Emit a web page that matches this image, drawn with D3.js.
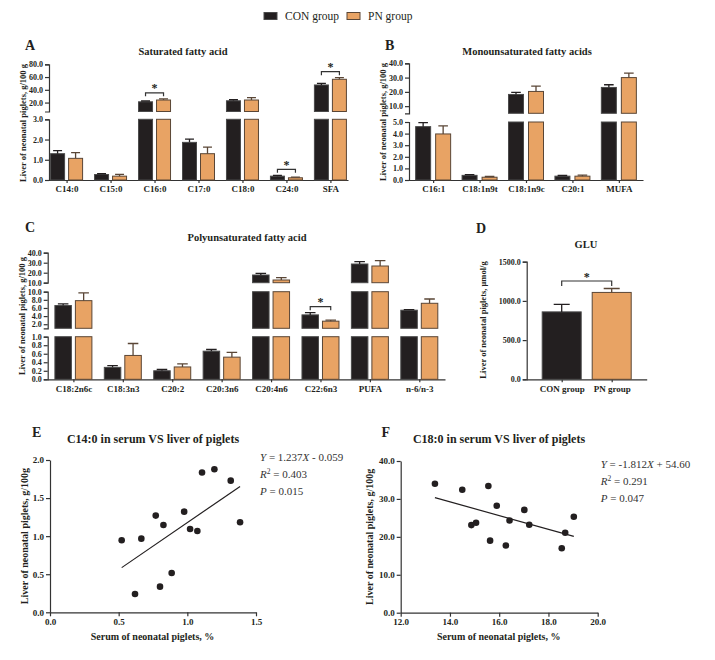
<!DOCTYPE html>
<html>
<head>
<meta charset="utf-8">
<script src="https://cdnjs.cloudflare.com/ajax/libs/d3/7.8.5/d3.min.js"></script>
<style>
  body { margin: 0; background: #fff; }
  svg { font-family: "Liberation Serif", "Times New Roman", serif; }
</style>
</head>
<body>
<div class="chart"></div>
<script>
// groups
var groups = ["CON group", "PN group"];
var groupFill = ["#231f20", "#e8a364"];
var groupStroke = ["#4a4a4a", "#5a4636"];
var errColor = ["#231f20", "#5a4636"];

// A - saturated fatty acid (g/100 g)
var sfaCats = ["C14:0", "C15:0", "C16:0", "C17:0", "C18:0", "C24:0", "SFA"];
var sfaCon = [1.30, 0.27, 21.2, 1.86, 22.8, 0.19, 47.6];
var sfaConSd = [0.15, 0.04, 1.3, 0.16, 1.6, 0.04, 2.6];
var sfaPn = [1.07, 0.19, 24.0, 1.30, 24.0, 0.11, 56.5];
var sfaPnSd = [0.28, 0.09, 1.8, 0.32, 3.8, 0.03, 2.6];
var sfaSig = ["C16:0", "C24:0", "SFA"];

// B - monounsaturated
var mufaCats = ["C16:1", "C18:1n9t", "C18:1n9c", "C20:1", "MUFA"];
var mufaCon = [4.60, 0.40, 18.2, 0.33, 23.1];
var mufaConSd = [0.35, 0.06, 1.5, 0.06, 1.9];
var mufaPn = [3.97, 0.24, 20.3, 0.33, 30.0];
var mufaPnSd = [0.70, 0.06, 3.7, 0.09, 3.1];
var mufaSig = [];

// C - polyunsaturated
var pufaCats = ["C18:2n6c", "C18:3n3", "C20:2", "C20:3n6", "C20:4n6", "C22:6n3", "PUFA", "n-6/n-3"];
var pufaCon = [6.6, 0.28, 0.20, 0.66, 17.7, 4.3, 28.7, 5.45];
var pufaConSd = [0.4, 0.04, 0.03, 0.04, 1.7, 0.55, 2.3, 0.15];
var pufaPn = [7.8, 0.56, 0.29, 0.52, 12.7, 2.75, 26.7, 7.15];
var pufaPnSd = [1.9, 0.28, 0.07, 0.11, 2.3, 0.25, 5.3, 1.05];
var pufaSig = ["C22:6n3"];

// D - GLU (umol/g), one bar per group
var gluCats = ["CON group", "PN group"];
var gluMean = [860, 1108];
var gluSd = [95, 50];
var gluSig = true;

// E - C14:0 serum vs liver
var eSerum = [0.522, 0.665, 0.770, 0.826, 0.619, 0.801, 0.886, 0.977, 1.020, 1.073, 1.107, 1.197, 1.316, 1.384];
var eLiver = [0.946, 0.967, 1.27, 1.147, 0.24, 0.337, 0.516, 1.322, 1.094, 1.068, 1.835, 1.879, 1.729, 1.183];
var eFit = [1.237, -0.059, 0.403, 0.015]; // slope, intercept, R2, P

// F - C18:0 serum vs liver
var fSerum = [13.39, 14.50, 14.87, 15.06, 15.56, 15.63, 15.90, 16.27, 16.42, 17.02, 17.22, 18.54, 18.68, 19.03];
var fLiver = [34.0, 32.4, 23.1, 23.7, 33.4, 19.0, 28.2, 17.7, 24.3, 27.1, 23.2, 17.0, 21.1, 25.3];
var fFit = [-1.812, 54.60, 0.291, 0.047];

var width = 715, height = 660;
var ink = "#231f20";

var svg = d3.select(".chart").append("svg")
  .attr("width", width)
  .attr("height", height);

svg.append("rect").attr("width", width).attr("height", height).attr("fill", "#fff");

// legend
var leg = svg.append("g");
[264, 347].forEach(function(lx, i) {
  leg.append("rect")
    .attr("x", lx).attr("y", 12.5)
    .attr("width", 13).attr("height", 7)
    .attr("fill", groupFill[i])
    .attr("stroke", groupStroke[i]);
  leg.append("text")
    .attr("x", lx + 21).attr("y", 20)
    .style("font-size", "11.5px")
    .attr("fill", ink)
    .text(groups[i]);
});

function styleAxis(a, fs) {
  a.attr("font-family", null).attr("font-size", null);
  a.select(".domain").attr("stroke", "#333").attr("stroke-width", 1.2);
  a.selectAll(".tick line").attr("stroke", "#333").attr("stroke-width", 1.2);
  a.selectAll(".tick text")
    .attr("fill", ink)
    .style("font-weight", "bold")
    .style("font-size", fs + "px");
}

function label(x, y, txt, size, bold, anchor) {
  return svg.append("text")
    .attr("x", x).attr("y", y)
    .attr("fill", ink)
    .style("font-size", size + "px")
    .style("font-weight", bold ? "bold" : "normal")
    .attr("text-anchor", anchor || "start")
    .text(txt);
}

function yTitle(x, y, txt, size) {
  svg.append("text")
    .attr("transform", "translate(" + x + "," + y + ") rotate(-90)")
    .attr("text-anchor", "middle")
    .attr("fill", ink)
    .style("font-size", size + "px")
    .style("font-weight", "bold")
    .text(txt);
}

// bar chart with a broken y axis
function barPanel(p) {
  var g = svg.append("g");
  var x = d3.scalePoint().domain(p.cats).range(p.xr).padding(p.pad);
  var segs = p.segs.map(function(s) {
    return { d: s.d, sc: d3.scaleLinear().domain(s.d).range(s.r), ticks: s.ticks };
  });
  var base = p.segs[0].r[0];

  // y axis pieces
  segs.forEach(function(s) {
    var a = g.append("g")
      .attr("transform", "translate(" + p.xr[0] + ",0)")
      .call(d3.axisLeft(s.sc).tickValues(s.ticks).tickFormat(d3.format(".1f"))
        .tickSize(4).tickSizeOuter(4).tickPadding(2));
    styleAxis(a, 8);
  });

  var ax = g.append("g")
    .attr("transform", "translate(0," + base + ")")
    .call(d3.axisBottom(x).tickSize(3).tickSizeOuter(0).tickPadding(3));
  styleAxis(ax, 9);

  // list of bars: grouped (two per category) or one per category
  var bars = [];
  if (p.single) {
    p.cats.forEach(function(c, j) {
      bars.push({ cat: c, k: j, v: p.vals[j], sd: p.sds[j], cx: x(c) });
    });
  } else {
    p.cats.forEach(function(c, j) {
      bars.push({ cat: c, k: 0, v: p.con[j], sd: p.conSd[j], cx: x(c) - p.gap / 2 - p.bw / 2 });
      bars.push({ cat: c, k: 1, v: p.pn[j], sd: p.pnSd[j], cx: x(c) + p.gap / 2 + p.bw / 2 });
    });
  }

  bars.forEach(function(b) {
    var own = segs[0];
    segs.forEach(function(s) {
      if (b.v > s.d[0]) {
        var t = Math.min(b.v, s.d[1]);
        g.append("rect")
          .attr("x", b.cx - p.bw / 2).attr("y", s.sc(t))
          .attr("width", p.bw).attr("height", s.sc(s.d[0]) - s.sc(t))
          .attr("fill", groupFill[b.k])
          .attr("stroke", groupStroke[b.k])
          .attr("stroke-width", 1);
        own = s;
      }
    });
    var cw = Math.min(p.bw * 0.32, 8);
    b.y1 = own.sc(b.v);
    b.y2 = own.sc(b.v + b.sd);
    g.append("path")
      .attr("d", "M" + b.cx + "," + b.y1 + "V" + b.y2 + "M" + (b.cx - cw) + "," + b.y2 + "H" + (b.cx + cw))
      .attr("fill", "none")
      .attr("stroke", errColor[b.k])
      .attr("stroke-width", 1.3);
  });

  // significance brackets
  var pairs = [];
  if (p.single) {
    if (p.sig) pairs.push([bars[0], bars[1]]);
  } else {
    p.sig.forEach(function(c) {
      var j = p.cats.indexOf(c);
      pairs.push([bars[2 * j], bars[2 * j + 1]]);
    });
  }
  pairs.forEach(function(pr) {
    var yb = Math.min(pr[0].y2, pr[1].y2) - p.bgap, xa = pr[0].cx, xb = pr[1].cx;
    g.append("path")
      .attr("d", "M" + xa + "," + (yb + p.btick) + "V" + yb + "H" + xb + "V" + (yb + p.btick))
      .attr("fill", "none").attr("stroke", "#333").attr("stroke-width", 1.2);
    g.append("text")
      .attr("x", (xa + xb) / 2).attr("y", yb - 0.5)
      .attr("text-anchor", "middle")
      .attr("fill", ink)
      .style("font-size", "12px").style("font-weight", "bold")
      .text("*");
  });

  yTitle(p.titleX, p.titleY, p.yLabel, 8.5);
  label(p.letter[1], p.letter[2], p.letter[0], 14, true);
  label(p.title[1], p.title[2], p.title[0], 10.5, true, "middle");
}

barPanel({
  cats: sfaCats, con: sfaCon, conSd: sfaConSd, pn: sfaPn, pnSd: sfaPnSd, sig: sfaSig,
  xr: [49, 348], pad: 0.4, bw: 14, gap: 4, bgap: 6, btick: 3.5,
  segs: [
    { d: [0, 3], r: [180, 119.3], ticks: [0, 1, 2, 3] },
    { d: [6, 80], r: [111.5, 64.3], ticks: [20, 40, 60, 80] }
  ],
  yLabel: "Liver of neonatal piglets, g/100 g", titleX: 26, titleY: 123,
  letter: ["A", 25, 50], title: ["Saturated fatty acid", 183, 55]
});

barPanel({
  cats: mufaCats, con: mufaCon, conSd: mufaConSd, pn: mufaPn, pnSd: mufaPnSd, sig: mufaSig,
  xr: [409, 643], pad: 0.52, bw: 15, gap: 5, bgap: 6, btick: 3.5,
  segs: [
    { d: [0, 5], r: [180, 122], ticks: [0, 1, 2, 3, 4, 5] },
    { d: [5, 40], r: [113.3, 63.3], ticks: [10, 20, 30, 40] }
  ],
  yLabel: "Liver of neonatal piglets, g/100 g", titleX: 386, titleY: 122,
  letter: ["B", 385, 50], title: ["Monounsaturated fatty acids", 527, 55]
});

barPanel({
  cats: pufaCats, con: pufaCon, conSd: pufaConSd, pn: pufaPn, pnSd: pufaPnSd, sig: pufaSig,
  xr: [47.7, 445], pad: 0.52, bw: 16.5, gap: 4, bgap: 6, btick: 3.5,
  segs: [
    { d: [0, 1], r: [379.3, 336.7], ticks: [0, 0.2, 0.4, 0.6, 0.8, 1.0] },
    { d: [1, 10], r: [328.3, 291.7], ticks: [2, 4, 6, 8, 10] },
    { d: [10, 40], r: [282.7, 252.7], ticks: [10, 20, 30, 40] }
  ],
  yLabel: "Liver of neonatal piglets, g/100 g", titleX: 24.5, titleY: 316,
  letter: ["C", 25, 231.5], title: ["Polyunsaturated fatty acid", 247, 240.5]
});

barPanel({
  single: true, cats: gluCats, vals: gluMean, sds: gluSd, sig: gluSig,
  xr: [526.7, 646.7], pad: 0.7, bw: 39, gap: 11, bgap: 7.5, btick: 5,
  segs: [
    { d: [0, 1500], r: [379.3, 261.7], ticks: [0, 500, 1000, 1500] }
  ],
  yLabel: "Liver of neonatal piglets, \u03bcmol/g", titleX: 486, titleY: 320,
  letter: ["D", 476, 233.3], title: ["GLU", 586, 248]
});

// scatter with regression line
function scatterPanel(p) {
  var g = svg.append("g");
  var x = d3.scaleLinear().domain(p.xd).range(p.xr);
  var y = d3.scaleLinear().domain(p.yd).range(p.yr);

  var ax = g.append("g")
    .attr("transform", "translate(0," + p.yr[0] + ")")
    .call(d3.axisBottom(x).tickValues(p.xt).tickFormat(d3.format(".1f")).tickSize(4).tickSizeOuter(0).tickPadding(2));
  styleAxis(ax, 9);
  var ay = g.append("g")
    .attr("transform", "translate(" + p.xr[0] + ",0)")
    .call(d3.axisLeft(y).tickValues(p.yt).tickFormat(d3.format(".1f")).tickSize(4).tickSizeOuter(0).tickPadding(2));
  styleAxis(ay, 9);

  var ext = d3.extent(p.xs);
  var fit = p.fit;
  g.append("path")
    .datum(ext)
    .attr("d", d3.line().x(function(d) { return x(d); }).y(function(d) { return y(fit[0] * d + fit[1]); }))
    .attr("stroke", ink).attr("stroke-width", 1.2).attr("fill", "none");

  g.selectAll("circle")
    .data(p.xs)
    .enter().append("circle")
    .attr("cx", function(d) { return x(d); })
    .attr("cy", function(d, i) { return y(p.ys[i]); })
    .attr("r", 3.3)
    .attr("fill", ink);

  // equation text
  var t = g.append("g").attr("fill", "#333").style("font-size", "11px");
  var l1 = t.append("text").attr("x", p.ann[0]).attr("y", p.ann[1]);
  l1.append("tspan").style("font-style", "italic").text("Y");
  l1.append("tspan").text(" = " + fit[0].toFixed(3));
  l1.append("tspan").style("font-style", "italic").text("X");
  l1.append("tspan").text((fit[1] < 0 ? " - " : " + ") + Math.abs(fit[1]).toFixed(p.dec));
  var l2 = t.append("text").attr("x", p.ann[0]).attr("y", p.ann[1] + 17);
  l2.append("tspan").style("font-style", "italic").text("R");
  l2.append("tspan").attr("dy", -4).style("font-size", "7.5px").text("2");
  l2.append("tspan").attr("dy", 4).text(" = " + fit[2].toFixed(3));
  var l3 = t.append("text").attr("x", p.ann[0]).attr("y", p.ann[1] + 34);
  l3.append("tspan").style("font-style", "italic").text("P");
  l3.append("tspan").text(" = " + fit[3].toFixed(3));

  label(p.letter[1], p.letter[2], p.letter[0], 14, true);
  label(p.title[1], p.title[2], p.title[0], 12, true, "middle");
  label((p.xr[0] + p.xr[1]) / 2 + p.xtOff, 640, "Serum of neonatal piglets, %", 10, true, "middle");
  yTitle(p.ytX, (p.yr[0] + p.yr[1]) / 2, "Liver of neonatal piglets, g/100g", 10);
}

scatterPanel({
  xs: eSerum, ys: eLiver, fit: eFit, dec: 3,
  xd: [0, 1.5], xr: [50, 256], yd: [0, 2], yr: [612.3, 460],
  xt: [0, 0.5, 1.0, 1.5], yt: [0, 0.5, 1.0, 1.5, 2.0],
  ann: [260, 460.5], ytX: 27.5, xtOff: -0.5,
  letter: ["E", 32, 436.7], title: ["C14:0 in serum VS liver of piglets", 153, 443]
});

scatterPanel({
  xs: fSerum, ys: fLiver, fit: fFit, dec: 2,
  xd: [12, 20], xr: [400.7, 597.7], yd: [0, 40], yr: [612.7, 461],
  xt: [12, 14, 16, 18, 20], yt: [0, 10, 20, 30, 40],
  ann: [600.7, 467.5], ytX: 372.5, xtOff: -0.5,
  letter: ["F", 381.5, 436.7], title: ["C18:0 in serum VS liver of piglets", 499, 443]
});
</script>
</body>
</html>
